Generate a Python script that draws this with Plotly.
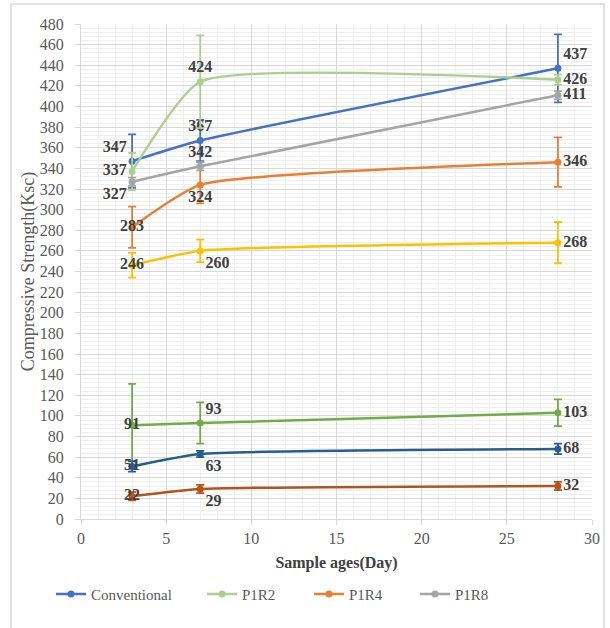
import plotly.graph_objects as go

ages = [3, 7, 28]

series_names = ["Conventional", "P1R2", "P1R4", "P1R8", "Series 5", "Series 6", "Series 7", "Series 8"]
conventional = [347, 367, 437]
p1r2 = [337, 424, 426]
p1r4 = [283, 324, 346]
p1r8 = [327, 342, 411]
series5 = [246, 260, 268]
series6 = [91, 93, 103]
series7 = [51, 63, 68]
series8 = [22, 29, 32]

err_conventional = [26, 20, 33]
err_p1r2 = [18, 45, 5]
err_p1r4 = [20, 18, 24]
err_p1r8 = [4, 4, 4]
err_series5 = [12, 11, 20]
err_series6 = [40, 20, 13]
err_series7 = [5, 3, 5]
err_series8 = [4, 4, 4]

values = [conventional, p1r2, p1r4, p1r8, series5, series6, series7, series8]
errors = [err_conventional, err_p1r2, err_p1r4, err_p1r8, err_series5, err_series6, err_series7, err_series8]
colors = ["#4472C4", "#A9D18E", "#ED7D31", "#A5A5A5", "#FFC000", "#70AD47", "#255E91", "#B4531A"]
text_positions = [
    ["top left", "top center", "top right"],
    ["middle left", "top center", "middle right"],
    ["middle center", "bottom center", "middle right"],
    ["bottom left", "top center", "middle right"],
    ["middle center", "bottom right", "middle right"],
    ["middle center", "top right", "middle right"],
    ["middle center", "bottom right", "middle right"],
    ["middle center", "bottom right", "middle right"],
]
legend_ids = ["legend", "legend2", "legend3", "legend4", None, None, None, None]

serif = "Liberation Serif, Times New Roman, serif"

fig = go.Figure()
for name, vals, errs, col, tp, lg in zip(series_names, values, errors, colors, text_positions, legend_ids):
    fig.add_trace(go.Scatter(
        x=ages, y=vals, name=name, mode="lines+markers+text",
        line=dict(color=col, width=2.5, shape="spline", smoothing=0.5),
        marker=dict(color=col, size=7),
        error_y=dict(type="data", array=errs, visible=True, color=col, thickness=1.8, width=4),
        text=[str(v) for v in vals], textposition=tp,
        textfont=dict(family=serif, size=16, color="#404040", weight="bold"),
        showlegend=lg is not None,
        legend=lg if lg else "legend",
    ))

legend_common = dict(orientation="h", y=-0.152, yanchor="middle", xanchor="left",
                     font=dict(family=serif, size=15, color="#595959"),
                     itemwidth=30, bgcolor="rgba(0,0,0,0)")

fig.update_layout(
    width=610, height=628,
    margin=dict(l=81, r=18, t=24, b=109),
    paper_bgcolor="white", plot_bgcolor="white",
    font=dict(family=serif, color="#595959", size=15),
    xaxis=dict(
        range=[0, 30], dtick=5, tick0=0, automargin=False,
        showgrid=True, gridcolor="#D9D9D9", gridwidth=1,
        minor=dict(dtick=1, showgrid=True, gridcolor="#EFEFEF", gridwidth=1),
        ticks="outside", ticklen=5, tickcolor="#D9D9D9",
        showline=True, linecolor="#D9D9D9", zeroline=False,
        tickfont=dict(family=serif, size=16, color="#595959"),
        title=dict(text="Sample ages(Day)", font=dict(family=serif, size=16, color="#404040", weight="bold"), standoff=10),
    ),
    yaxis=dict(
        range=[0, 480], dtick=20, tick0=0, automargin=False,
        showgrid=True, gridcolor="#D9D9D9", gridwidth=1,
        minor=dict(dtick=4, showgrid=True, gridcolor="#EFEFEF", gridwidth=1),
        ticks="outside", ticklen=5, tickcolor="#D9D9D9",
        showline=True, linecolor="#D9D9D9", zeroline=False,
        ticklabelstandoff=8,
        tickfont=dict(family=serif, size=16, color="#595959"),
        title=dict(text="Compressive Strength(Ksc)", font=dict(family=serif, size=18, color="#595959"), standoff=0),
    ),
    legend=dict(x=(51 - 81) / 511, **legend_common),
    legend2=dict(x=(202 - 81) / 511, **legend_common),
    legend3=dict(x=(309 - 81) / 511, **legend_common),
    legend4=dict(x=(415 - 81) / 511, **legend_common),
    shapes=[dict(type="rect", xref="paper", yref="paper",
                 x0=(11 - 81) / 511, x1=(604 - 81) / 511, y0=-0.25, y1=(519 - 4) / 495,
                 line=dict(color="#D9D9D9", width=1.5), fillcolor="rgba(0,0,0,0)", layer="below")],
)

fig.write_html("out.html", config={"displayModeBar": False},
               post_script="document.body.style.margin='0';document.body.style.overflow='hidden';")
